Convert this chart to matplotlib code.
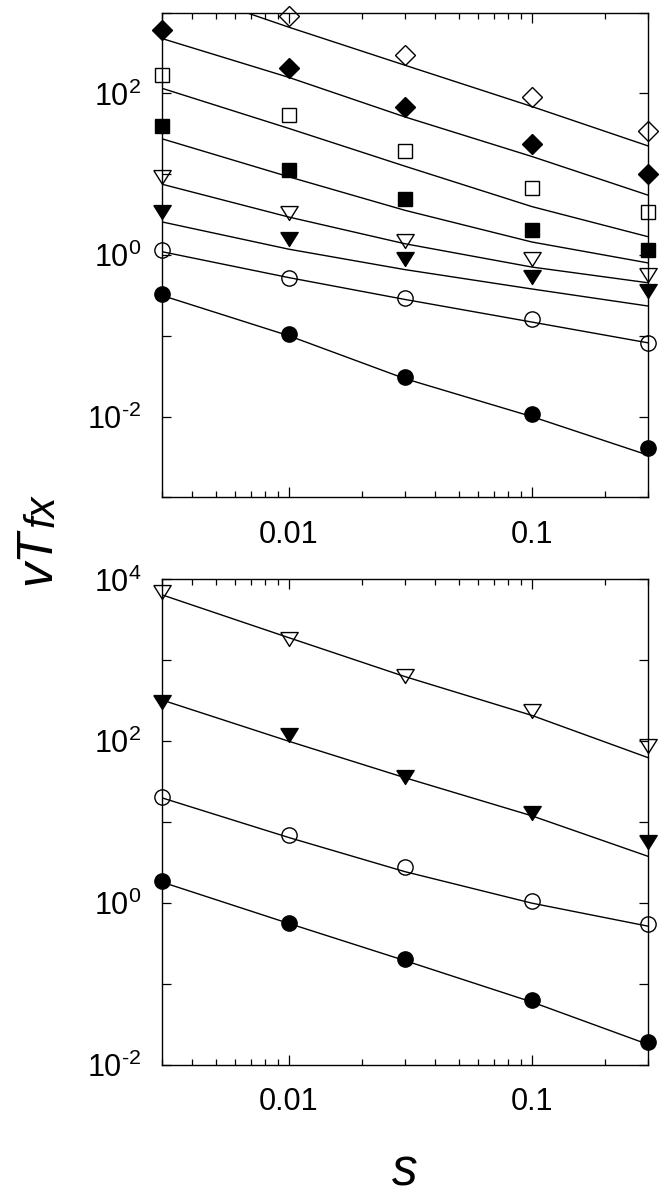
import matplotlib.pyplot as plt
import numpy as np
from matplotlib.ticker import FixedLocator, LogLocator, NullFormatter, NullLocator, FuncFormatter

plt.rcParams['font.family'] = ['Liberation Sans', 'DejaVu Sans']
plt.rcParams['mathtext.fontset'] = 'custom'
plt.rcParams['mathtext.rm'] = 'Liberation Sans'
plt.rcParams['mathtext.it'] = 'Liberation Sans:italic'

# Data
s = [0.003, 0.01, 0.03, 0.1, 0.3]

# top panel: measured points
top_open_diamond = [np.nan, 910, 299, 91, 34.3]
top_filled_diamond = [611, 205, 68.6, 23.5, 10.1]
top_open_square = [169, 54, 19.4, 6.7, 3.44]
top_filled_square = [39.5, 11.2, 4.93, 2.04, 1.17]
top_open_tri = [9.3, 3.3, 1.5, 0.89, 0.57]
top_filled_tri = [3.42, 1.6, 0.9, 0.53, 0.355]
top_open_circle = [1.14, 0.52, 0.29, 0.163, 0.082]
top_filled_circle = [0.333, 0.106, 0.031, 0.0107, 0.0041]

# top panel: fitted curves
top_fit_open_diamond = [2290, 661, 224, 69, 22.5]
top_fit_filled_diamond = [479, 158, 51.3, 16.6, 5.53]
top_fit_open_square = [116, 36.9, 12.6, 3.98, 1.69]
top_fit_filled_square = [27.5, 9.29, 3.58, 1.45, 0.80]
top_fit_open_tri = [7.53, 2.95, 1.38, 0.71, 0.454]
top_fit_filled_tri = [2.57, 1.18, 0.66, 0.38, 0.234]
top_fit_open_circle = [1.10, 0.525, 0.282, 0.148, 0.082]
top_fit_filled_circle = [0.316, 0.1, 0.0295, 0.01, 0.00334]

# bottom panel: measured points
bot_open_tri = [7080, 1820, 646, 234, 88]
bot_filled_tri = [309, 120, 35.9, 12.9, 5.75]
bot_open_circle = [20.7, 6.9, 2.82, 1.07, 0.55]
bot_filled_circle = [1.89, 0.575, 0.204, 0.063, 0.019]

# bottom panel: fitted curves
bot_fit_open_tri = [6460, 1905, 631, 209, 63]
bot_fit_filled_tri = [324, 100, 35.5, 12.0, 3.8]
bot_fit_open_circle = [20, 6.46, 2.45, 1.0, 0.52]
bot_fit_filled_circle = [1.82, 0.56, 0.195, 0.060, 0.018]

# wide, flat down-pointing triangle like the original
tri_down = [(-1, 0.8), (1, 0.8), (0, -0.8), (-1, 0.8)]

top_series = [
    (top_open_diamond, top_fit_open_diamond, 'D', False, 10),
    (top_filled_diamond, top_fit_filled_diamond, 'D', True, 10),
    (top_open_square, top_fit_open_square, 's', False, 10),
    (top_filled_square, top_fit_filled_square, 's', True, 10),
    (top_open_tri, top_fit_open_tri, tri_down, False, 12.5),
    (top_filled_tri, top_fit_filled_tri, tri_down, True, 12.5),
    (top_open_circle, top_fit_open_circle, 'o', False, 11),
    (top_filled_circle, top_fit_filled_circle, 'o', True, 11),
]
bot_series = [
    (bot_open_tri, bot_fit_open_tri, tri_down, False, 12.5),
    (bot_filled_tri, bot_fit_filled_tri, tri_down, True, 12.5),
    (bot_open_circle, bot_fit_open_circle, 'o', False, 11),
    (bot_filled_circle, bot_fit_filled_circle, 'o', True, 11),
]

fig = plt.figure(figsize=(6.71, 11.99), dpi=100)
ax_top = fig.add_axes([0.2414, 0.5852, 0.7239, 0.4042])
ax_bot = fig.add_axes([0.2414, 0.1118, 0.7239, 0.4049])


def even_decade(v, pos):
    e = int(round(np.log10(v)))
    if e % 2:
        return ''
    if e < 0:
        # short hyphen as in the original, not a long minus
        return r'$\mathregular{10^{\text{-}%d}}$' % -e
    return r'$\mathregular{10^{%d}}$' % e


def draw_panel(ax, series, ylim):
    for pts, fit, mk, filled, ms in series:
        ax.plot(s, fit, color='black', lw=1.0, zorder=2)
        ax.plot(s, pts, linestyle='none', marker=mk, markersize=ms,
                markeredgecolor='black', markeredgewidth=1.0,
                markerfacecolor='black' if filled else 'none',
                clip_on=False, zorder=3)
    ax.set_xscale('log')
    ax.set_yscale('log')
    ax.set_xlim(0.003, 0.3)
    ax.set_ylim(*ylim)

    ax.xaxis.set_major_locator(FixedLocator([0.01, 0.1]))
    ax.xaxis.set_major_formatter(FuncFormatter(lambda v, p: '%g' % v))
    ax.xaxis.set_minor_locator(LogLocator(base=10, subs=np.arange(2, 10), numticks=20))
    ax.xaxis.set_minor_formatter(NullFormatter())
    ax.yaxis.set_major_locator(LogLocator(base=10, subs=(1.0,), numticks=20))
    ax.yaxis.set_major_formatter(FuncFormatter(even_decade))
    ax.yaxis.set_minor_locator(NullLocator())

    ax.tick_params(which='both', direction='in', top=True, right=True,
                   width=0.9, labelsize=22)
    ax.tick_params(axis='x', which='major', length=7, pad=16)
    ax.tick_params(axis='x', which='minor', length=4)
    ax.tick_params(axis='y', which='major', length=6.3, pad=15)
    for sp in ax.spines.values():
        sp.set_linewidth(1.0)


draw_panel(ax_top, top_series, (1e-3, 1e3))
draw_panel(ax_bot, bot_series, (1e-2, 1e4))

# axis labels
fig.text(50.7 / 671, 1 - 585 / 1199, 'vT', rotation=90, rotation_mode='anchor',
         ha='left', va='baseline', fontsize=36, style='italic')
fig.text(53.5 / 671, 1 - 527 / 1199, 'fx', rotation=90, rotation_mode='anchor',
         ha='left', va='baseline', fontsize=30, style='italic')
fig.text(405 / 671, 1 - 1197 / 1199, 's', ha='center', va='bottom',
         fontsize=37, style='italic')

fig.savefig('out.png', dpi=100, facecolor='white')
